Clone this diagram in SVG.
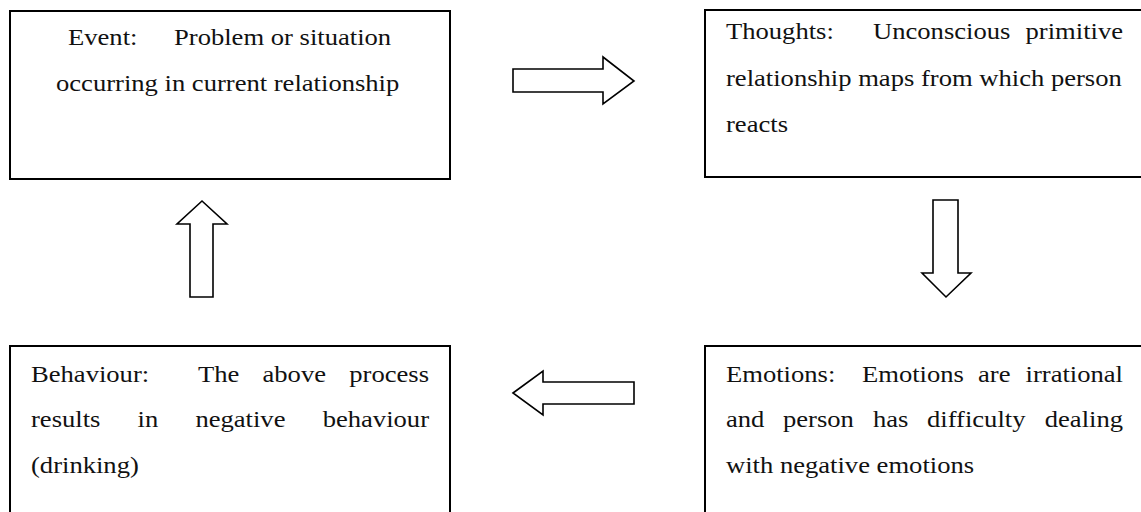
<svg xmlns="http://www.w3.org/2000/svg" width="1141" height="512" viewBox="0 0 1141 512">
<style>
.box{fill:#fff;stroke:#000;stroke-width:2}
.arr{fill:#fff;stroke:#000;stroke-width:1.6;stroke-linejoin:miter}
text{font-family:"Liberation Serif","Times New Roman",serif;font-size:22.5px;fill:#111}
.e{text-anchor:end}
</style>
<rect width="1141" height="512" fill="#fff"/>
<g id="event">
<rect class="box" x="10" y="11" width="440" height="168"/>
<text transform="translate(68,45) scale(1.182,1)">Event:</text>
<text transform="translate(174,45) scale(1.182,1)">Problem or situation</text>
<text transform="translate(56,91) scale(1.182,1)">occurring in current relationship</text>
</g>
<g id="thoughts">
<rect class="box" x="705" y="10" width="445" height="167"/>
<text transform="translate(726,39) scale(1.182,1)">Thoughts:</text>
<text transform="translate(873,39) scale(1.182,1)">Unconscious</text>
<text class="e" transform="translate(1123,39) scale(1.182,1)">primitive</text>
<text transform="translate(726,86) scale(1.182,1)">relationship maps from which person</text>
<text transform="translate(726,132) scale(1.182,1)">reacts</text>
</g>
<g id="emotions">
<rect class="box" x="705" y="346" width="445" height="180"/>
<text transform="translate(726,382) scale(1.182,1)">Emotions:</text>
<text transform="translate(862,382) scale(1.182,1)">Emotions</text>
<text transform="translate(978,382) scale(1.182,1)">are</text>
<text class="e" transform="translate(1123,382) scale(1.182,1)">irrational</text>
<text transform="translate(726,427) scale(1.182,1)">and</text>
<text transform="translate(783,427) scale(1.182,1)">person</text>
<text transform="translate(873,427) scale(1.182,1)">has</text>
<text transform="translate(927,427) scale(1.182,1)">difficulty</text>
<text class="e" transform="translate(1123,427) scale(1.182,1)">dealing</text>
<text transform="translate(726,473) scale(1.182,1)">with negative emotions</text>
</g>
<g id="behaviour">
<rect class="box" x="10" y="346" width="440" height="180"/>
<text transform="translate(31,382) scale(1.182,1)">Behaviour:</text>
<text transform="translate(198,382) scale(1.182,1)">The</text>
<text transform="translate(262.5,382) scale(1.182,1)">above</text>
<text class="e" transform="translate(429,382) scale(1.182,1)">process</text>
<text transform="translate(31,427) scale(1.182,1)">results</text>
<text transform="translate(137.6,427) scale(1.182,1)">in</text>
<text transform="translate(195.4,427) scale(1.182,1)">negative</text>
<text class="e" transform="translate(429,427) scale(1.182,1)">behaviour</text>
<text transform="translate(31,473) scale(1.182,1)">(drinking)</text>
</g>
<g id="connectors">
<polygon class="arr" points="513,69 603,69 603,57 634,81 603,104 603,92 513,92"/>
<polygon class="arr" points="933,200 958,200 958,273 971,273 946,297 922,273 933,273"/>
<polygon class="arr" points="513,393 543,371 543,382 634,382 634,404 543,404 543,415"/>
<polygon class="arr" points="202,201 227,224 213,224 213,297 190,297 190,224 177,224"/>
</g>
</svg>
